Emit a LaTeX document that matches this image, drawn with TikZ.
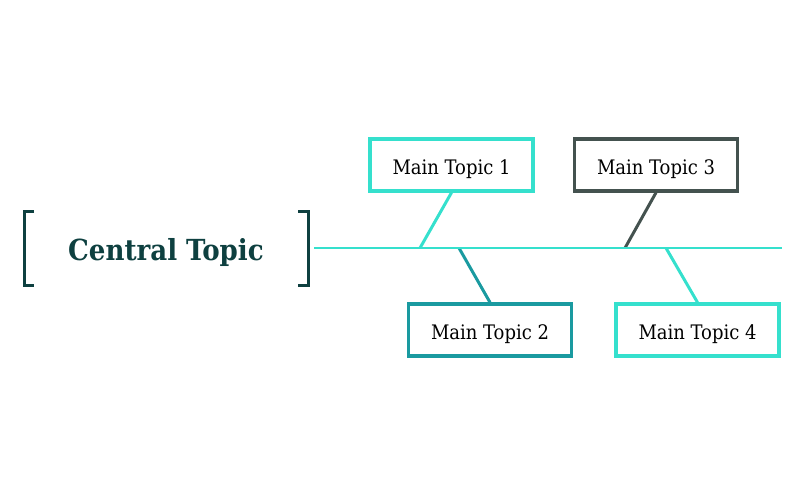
\documentclass[tikz,border=0pt]{standalone}
\usepackage{fontspec}
\setmainfont{DejaVu Serif}
\newfontfamily\condserif{DejaVu Serif Condensed}
\definecolor{turq}{HTML}{35E0CD}
\definecolor{tealdk}{HTML}{1A9AA0}
\definecolor{slate}{HTML}{44524F}
\definecolor{pine}{HTML}{0E4040}
\begin{document}
\begin{tikzpicture}[x=1pt,y=-1pt,
  topic/.style={draw=#1,line width=3.2pt,fill=white,minimum width=163pt,minimum height=52pt,
    inner sep=0pt,text height=20pt,text depth=2pt,
    font=\condserif\fontsize{20}{24}\selectfont,text=black},
  bone/.style={draw=#1,line width=3pt},
  bracketline/.style={draw=pine,line width=3pt}]
\useasboundingbox (0,0) rectangle (800,496);
% central topic with brackets
\node[font=\condserif\bfseries\fontsize{29}{34}\selectfont,text=pine] (central) at (166,252.5) {Central Topic};
\coordinate (lb1) at (34,211); \coordinate (lb2) at (24,211);
\coordinate (lb3) at (24,285); \coordinate (lb4) at (34,285);
\draw[bracketline] (lb1) -- (lb2) -- (lb3) -- (lb4);
\coordinate (rb1) at (298,211); \coordinate (rb2) at (308,211);
\coordinate (rb3) at (308,285); \coordinate (rb4) at (298,285);
\draw[bracketline] (rb1) -- (rb2) -- (rb3) -- (rb4);
% spine
\coordinate (spineA) at (314,248);
\coordinate (spineB) at (782,248);
% attachment points on the spine
\coordinate (j1) at (420,248);
\coordinate (j2) at (459,248);
\coordinate (j3) at (625,248);
\coordinate (j4) at (666,248);
% main topics
\node[topic=turq] (t1) at (451.5,165) {Main Topic 1};
\node[topic=tealdk] (t2) at (490,330) {Main Topic 2};
\node[topic=slate] (t3) at (656,165) {Main Topic 3};
\node[topic=turq] (t4) at (697.5,330) {Main Topic 4};
% bones
\draw[bone=turq] (t1.south) -- (j1);
\draw[bone=tealdk] (j2) -- (t2.north);
\draw[bone=slate] (t3.south) -- (j3);
\draw[bone=turq] (j4) -- (t4.north);
\draw[draw=turq,line width=2.5pt] (spineA) -- (spineB);
\end{tikzpicture}
\end{document}
